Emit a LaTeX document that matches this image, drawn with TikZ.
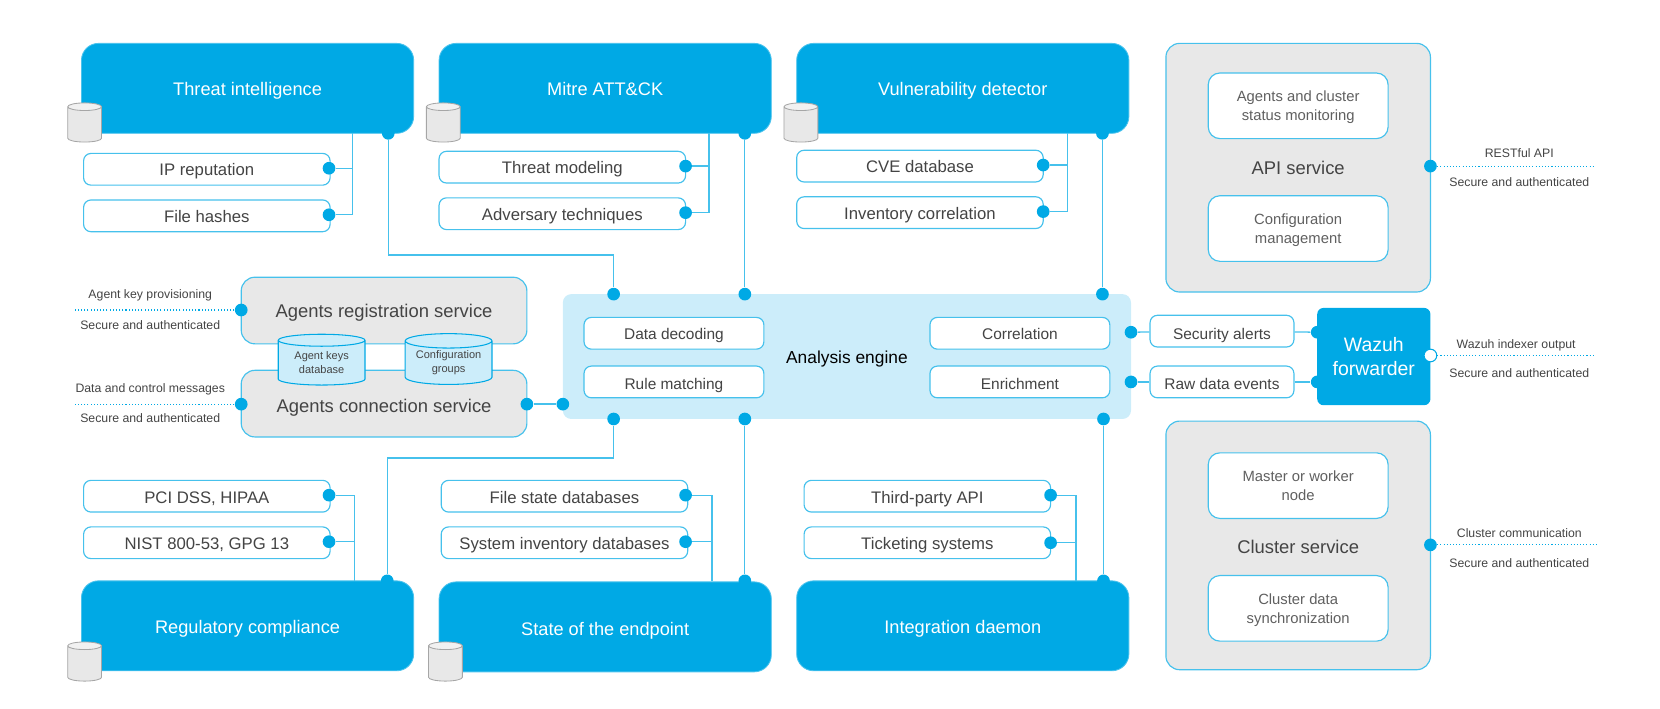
\documentclass[tikz,border=0pt]{standalone}
\usepackage{fontspec}
\setmainfont{Liberation Sans}
\usetikzlibrary{shapes.geometric}
\definecolor{wblue}{RGB}{0,169,229}
\definecolor{wline}{RGB}{70,193,236}
\definecolor{wpale}{RGB}{204,237,250}
\definecolor{wgray}{RGB}{232,232,232}
\definecolor{wtext}{RGB}{68,68,68}
\tikzset{
    bluebox/.style = {rectangle, text height=6.7pt, text depth=0pt, rounded corners=8pt, fill=wblue, draw=wblue!70!white, line width=.4pt, minimum width=157pt, minimum height=42.5pt, text=white, font=\fontsize{8.6}{10}\selectfont},
    subbox/.style = {rectangle, text height=6.2pt, text depth=0pt, rounded corners=3.5pt, fill=white, draw=wline, line width=.55pt, minimum width=116.5pt, minimum height=15pt, text=wtext, font=\fontsize{7.9}{9}\selectfont},
    innerbox/.style = {subbox, text height=5.7pt, minimum width=85pt, font=\fontsize{7.3}{9}\selectfont},
    statusbox/.style = {rectangle, rounded corners=5.5pt, fill=white, draw=wline, line width=.55pt, minimum width=85pt, minimum height=31pt, align=center, text depth=-6pt, text=wtext!85!white, font=\fontsize{7}{9.1}\selectfont},
    graybox/.style = {rectangle, text height=6.5pt, text depth=0pt, rounded corners=6.5pt, fill=wgray, draw=wline, line width=.55pt, text=wtext, font=\fontsize{8.7}{10}\selectfont},
    dbicon/.style = {cylinder, shape border rotate=90, aspect=.3, draw=black!35, line width=.4pt, cylinder uses custom fill, cylinder body fill=wgray, cylinder end fill=wgray!60!white, minimum width=16pt, minimum height=18.5pt, inner sep=6pt},
    dbbox/.style = {cylinder, shape border rotate=90, aspect=.22, draw=wblue, line width=.5pt, cylinder uses custom fill, cylinder body fill=wpale, cylinder end fill=wpale, minimum width=41pt, minimum height=24pt, inner sep=0pt, align=center, text=wtext, font=\fontsize{5.2}{6.6}\selectfont},
    dot/.style = {circle, fill=wblue, minimum size=6pt, inner sep=0pt},
    opendot/.style = {circle, fill=white, draw=wblue, line width=.5pt, minimum size=6pt, inner sep=0pt},
    link/.style = {draw=wline, line width=.6pt},
    dotline/.style = {draw=wblue, line width=.5pt, densely dotted},
    smalltxt/.style = {text=wtext, font=\fontsize{5.8}{7}\selectfont},
}
\begin{document}
\begin{tikzpicture}[x=.5pt, y=-.5pt]
    \useasboundingbox (0,0) rectangle (1569,670);
    % top row
    \node[bluebox] (threat) at (234,83.5) {Threat intelligence};
    \node[bluebox] (mitre) at (572,83.5) {Mitre ATT\&CK};
    \node[bluebox] (vuln) at (910,83.5) {Vulnerability detector};
    \node[dbicon] (threatdb) at (80,119.5) {};
    \node[dbicon] (mitredb) at (419,119.5) {};
    \node[dbicon] (vulndb) at (757,119.5) {};
    \node[subbox] (ip) at (195.5,160) {IP reputation};
    \node[subbox] (hashes) at (195.5,204) {File hashes};
    \node[subbox] (model) at (531.5,158) {Threat modeling};
    \node[subbox] (adversary) at (531.5,202) {Adversary techniques};
    \node[subbox] (cve) at (869.5,157) {CVE database};
    \node[subbox] (inventory) at (869.5,201) {Inventory correlation};
    % bottom row
    \node[subbox, text height=6.8pt] (pci) at (195.5,469) {PCI DSS, HIPAA};
    \node[subbox, text height=6.8pt] (nist) at (195.5,513) {NIST 800-53, GPG 13};
    \node[subbox, text height=6.8pt] (filestate) at (533.5,469) {File state databases};
    \node[subbox, text height=6.8pt] (sysinv) at (533.5,513) {System inventory databases};
    \node[subbox, text height=6.8pt] (thirdparty) at (876.5,469) {Third-party API};
    \node[subbox, text height=6.8pt] (ticket) at (876.5,513) {Ticketing systems};
    \node[bluebox, text height=7.7pt] (regulatory) at (234,591.5) {Regulatory compliance};
    \node[bluebox, text height=7.7pt] (endpoint) at (572,592.5) {State of the endpoint};
    \node[bluebox, text height=7.7pt] (integration) at (910,591.5) {Integration daemon};
    \node[dbicon] (regulatorydb) at (80,629) {};
    \node[dbicon] (endpointdb) at (421,629) {};
    % analysis engine
    \node[rectangle, text height=6.5pt, text depth=0pt, rounded corners=4pt, fill=wpale, minimum width=268.5pt, minimum height=59pt, font=\fontsize{8.2}{10}\selectfont] (engine) at (800.5,337) {Analysis engine};
    \node[innerbox] (decoding) at (637,315) {Data decoding};
    \node[innerbox, text height=7.2pt] (rule) at (637,361) {Rule matching};
    \node[innerbox] (correlation) at (964,315) {Correlation};
    \node[innerbox, text height=7.2pt] (enrichment) at (964,361) {Enrichment};
    % agents services
    \node[graybox, minimum width=135pt, minimum height=31.5pt] (registration) at (363,293.5) {Agents registration service};
    \node[graybox, text height=8.5pt, minimum width=135pt, minimum height=31.5pt] (connection) at (363,381.5) {Agents connection service};
    \node[dbbox] (keys) at (304,343) {Agent keys\\database};
    \node[dbbox] (groups) at (424,343) {Configuration\\groups};
    % forwarder
    \node[innerbox, minimum width=68pt, text height=7.6pt] (alerts) at (1155,313) {Security alerts};
    \node[innerbox, minimum width=68pt, text height=7.2pt] (raw) at (1155,361) {Raw data events};
    \node[rectangle, rounded corners=3pt, fill=wblue, minimum width=53.5pt, minimum height=46pt, align=center, text=white, font=\fontsize{9.2}{11}\selectfont] (forwarder) at (1298.5,337) {Wazuh\\forwarder};
    % services on the right
    \node[graybox, minimum width=125pt, minimum height=117.5pt] (api) at (1227,158.5) {API service};
    \node[statusbox] (status) at (1227,100) {Agents and cluster\\status monitoring};
    \node[statusbox] (config) at (1227,216) {Configuration\\management};
    \node[graybox, text height=7.2pt, minimum width=125pt, minimum height=117.5pt] (cluster) at (1227,515.5) {Cluster service};
    \node[statusbox] (master) at (1227,459) {Master or worker\\node};
    \node[statusbox] (sync) at (1227,575) {Cluster data\\synchronization};
    % dots
    \foreach \name/\pos in {ipdot/{311,159}, hashesdot/{311,203}, modeldot/{648,157}, adversarydot/{648,201}, cvedot/{986,156}, inventorydot/{986,200},
        pcidot/{311,468}, nistdot/{311,512}, filestatedot/{648,468}, sysinvdot/{648,512}, thirdpartydot/{993,468}, ticketdot/{993,513},
        threatdot/{367,126}, mitredot/{704,126}, vulndot/{1042,126}, regulatorydot/{366,549}, endpointdot/{704,549}, integrationdot/{1043,549},
        engnw/{580,278}, engn/{704,278}, engne/{1042,278}, engsw/{580,396}, engs/{704,396}, engse/{1043,396},
        engw/{532,382}, alertsdot/{1069,314}, rawdot/{1069,361}, fwdalerts/{1245,314}, fwdraw/{1245,361},
        regdot/{228,293}, conndot/{228,382}, connout/{498,382}, apidot/{1352,157}, clusterdot/{1352,515}}
        \node[dot] (\name) at (\pos) {};
    \node[opendot] (fwdout) at (1352,336) {};
    % free ends
    \coordinate (threattrunk) at (333,126);
    \coordinate (mitretrunk) at (670,126);
    \coordinate (vulntrunk) at (1009,126);
    \coordinate (regulatorytrunk) at (335,549);
    \coordinate (endpointtrunk) at (673,549);
    \coordinate (integrationtrunk) at (1017,549);
    \coordinate (regend) at (70,293);
    \coordinate (connend) at (70,382);
    \coordinate (apiend) at (1507,157);
    \coordinate (fwdend) at (1507,336);
    \coordinate (clusterend) at (1511,515);
    \coordinate (upperbend) at (367,241);
    \coordinate (lowerbend) at (366,433);
    % connectors
    \foreach \a/\b in {ipdot/threattrunk, hashesdot/threattrunk, modeldot/mitretrunk, adversarydot/mitretrunk, cvedot/vulntrunk, inventorydot/vulntrunk,
        pcidot/regulatorytrunk, nistdot/regulatorytrunk, filestatedot/endpointtrunk, sysinvdot/endpointtrunk, thirdpartydot/integrationtrunk, ticketdot/integrationtrunk}
        \draw[link] (\a) -| (\b);
    \draw[link] (threatdot) -- (upperbend) -| (engnw);
    \draw[link] (regulatorydot) -- (lowerbend) -| (engsw);
    \draw[link] (mitredot) -- (engn);
    \draw[link] (vulndot) -- (engne);
    \draw[link] (endpointdot) -- (engs);
    \draw[link] (integrationdot) -- (engse);
    \draw[link, line width=1pt] (connout) -- (engw);
    \draw[link] (alertsdot) -- (alerts);
    \draw[link] (rawdot) -- (raw);
    \draw[link] (alerts) -- (fwdalerts);
    \draw[link] (raw) -- (fwdraw);
    \draw[dotline] (regdot) -- (regend);
    \draw[dotline] (conndot) -- (connend);
    \draw[dotline] (apidot) -- (apiend);
    \draw[dotline] (fwdout) -- (fwdend);
    \draw[dotline] (clusterdot) -- (clusterend);
    % side labels
    \node[smalltxt] (reglabel) at (142,279) {Agent key provisioning};
    \node[smalltxt] (regsecure) at (142,307) {Secure and authenticated};
    \node[smalltxt] (connlabel) at (142,368) {Data and control messages};
    \node[smalltxt] (connsecure) at (142,395) {Secure and authenticated};
    \node[smalltxt] (apilabel) at (1436,145) {RESTful API};
    \node[smalltxt] (apisecure) at (1436,172.5) {Secure and authenticated};
    \node[smalltxt] (fwdlabel) at (1433,326) {Wazuh indexer output};
    \node[smalltxt] (fwdsecure) at (1436,353) {Secure and authenticated};
    \node[smalltxt] (clusterlabel) at (1436,504) {Cluster communication};
    \node[smalltxt] (clustersecure) at (1436,532) {Secure and authenticated};
\end{tikzpicture}
\end{document}
